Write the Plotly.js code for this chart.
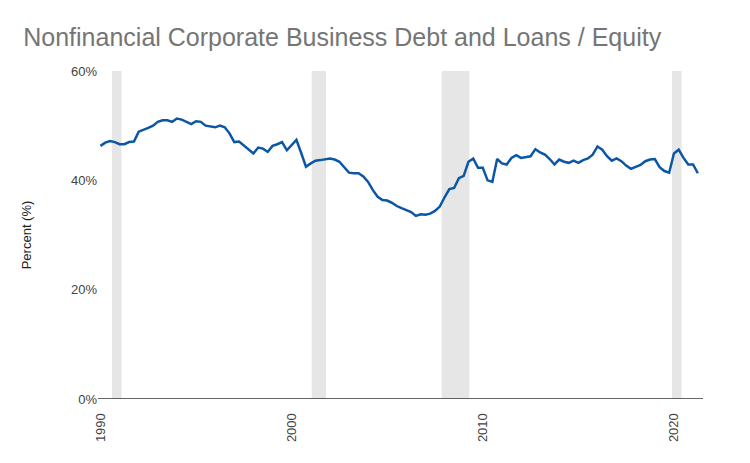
<!DOCTYPE html>
<html>
<head>
<meta charset="utf-8">
<script src="https://cdn.plot.ly/plotly-3.0.1.min.js"></script>
<style>html,body{margin:0;padding:0;background:#fff;}#chart{width:750px;height:463px;}</style>
</head>
<body>
<div id="chart"></div>
<script>
// Quarterly values starting 1990 Q1
const startYear = 1990;
const ratioPct = [
  46.3, 46.9, 47.2, 47.0, 46.6, 46.6, 47.0, 47.1,
  48.9, 49.2, 49.6, 50.0, 50.7, 51.0, 51.0, 50.7,
  51.3, 51.1, 50.7, 50.3, 50.8, 50.7, 50.0, 49.8,
  49.7, 50.0, 49.7, 48.6, 47.0, 47.1, 46.4, 45.6,
  44.9, 46.0, 45.8, 45.2, 46.3, 46.6, 47.0, 45.5,
  46.5, 47.4, 45.0, 42.5, 43.1, 43.6, 43.7, 43.9,
  44.0, 43.8, 43.4, 42.4, 41.4, 41.3, 41.3, 40.7,
  39.7, 38.2, 37.0, 36.4, 36.3, 35.9, 35.3, 34.9,
  34.6, 34.2, 33.5, 33.8, 33.7, 33.9, 34.4, 35.2,
  36.9, 38.4, 38.6, 40.4, 40.8, 43.4, 44.0, 42.3,
  42.3, 40.0, 39.7, 43.9, 43.1, 42.9, 44.1, 44.6,
  44.1, 44.2, 44.4, 45.7, 45.1, 44.7, 43.9, 42.9,
  43.8, 43.4, 43.2, 43.6, 43.2, 43.7, 44.0, 44.7,
  46.2, 45.6, 44.4, 43.6, 44.0, 43.5, 42.7, 42.1,
  42.5, 42.8, 43.5, 43.8, 43.9, 42.4, 41.7, 41.4,
  44.9, 45.6, 44.1, 42.9, 42.9, 41.3
];
const recessionStart = [1990.6, 2001.05, 2007.85, 2019.9];
const recessionEnd   = [1991.1, 2001.8, 2009.3, 2020.4];
const xTickVals = [1990, 2000, 2010, 2020];
const xTickText = ["1990", "2000", "2010", "2020"];
const yTickVals = [0, 20, 40, 60];
const yTickText = ["0%", "20%", "40%", "60%"];

const xs = ratioPct.map((v, i) => startYear + i / 4);

const shapes = recessionStart.map((s, i) => ({
  type: 'rect', xref: 'x', yref: 'y',
  x0: s, x1: recessionEnd[i], y0: 0, y1: 60,
  fillcolor: '#e6e6e6', line: {width: 0}, layer: 'below'
}));
shapes.push({
  type: 'line', xref: 'paper', yref: 'y', x0: 0, x1: 1, y0: 0, y1: 0,
  line: {color: '#333333', width: 1.5}
});

const trace = {
  x: xs, y: ratioPct, type: 'scatter', mode: 'lines',
  line: {color: '#0b57a6', width: 2.5},
  hoverinfo: 'x+y'
};

const layout = {
  width: 750, height: 463,
  margin: {l: 98, r: 47, t: 71, b: 64},
  paper_bgcolor: '#ffffff', plot_bgcolor: '#ffffff',
  font: {family: 'Liberation Sans, Arial, sans-serif', color: '#444444', size: 13},
  title: {
    text: 'Nonfinancial Corporate Business Debt and Loans / Equity',
    x: 0.031, xanchor: 'left', y: 0.92, yanchor: 'middle',
    font: {family: 'Liberation Sans, Arial, sans-serif', size: 25, color: '#757575'}
  },
  showlegend: false,
  xaxis: {
    range: [1989.87, 2021.52],
    tickmode: 'array', tickvals: xTickVals, ticktext: xTickText,
    tickangle: -90, showgrid: false, zeroline: false, showline: false,
    ticks: 'outside', ticklen: 8, tickcolor: 'rgba(0,0,0,0)',
    tickfont: {size: 13, color: '#444444'}
  },
  yaxis: {
    range: [0, 60],
    tickmode: 'array', tickvals: yTickVals, ticktext: yTickText,
    showgrid: false, zeroline: false, showline: false, ticks: '',
    tickfont: {size: 13, color: '#444444'},
    title: {text: 'Percent (%)', font: {size: 13, color: '#222222'}, standoff: 36}
  },
  shapes: shapes
};

Plotly.newPlot('chart', [trace], layout, {displayModeBar: false, staticPlot: true});
</script>
</body>
</html>
